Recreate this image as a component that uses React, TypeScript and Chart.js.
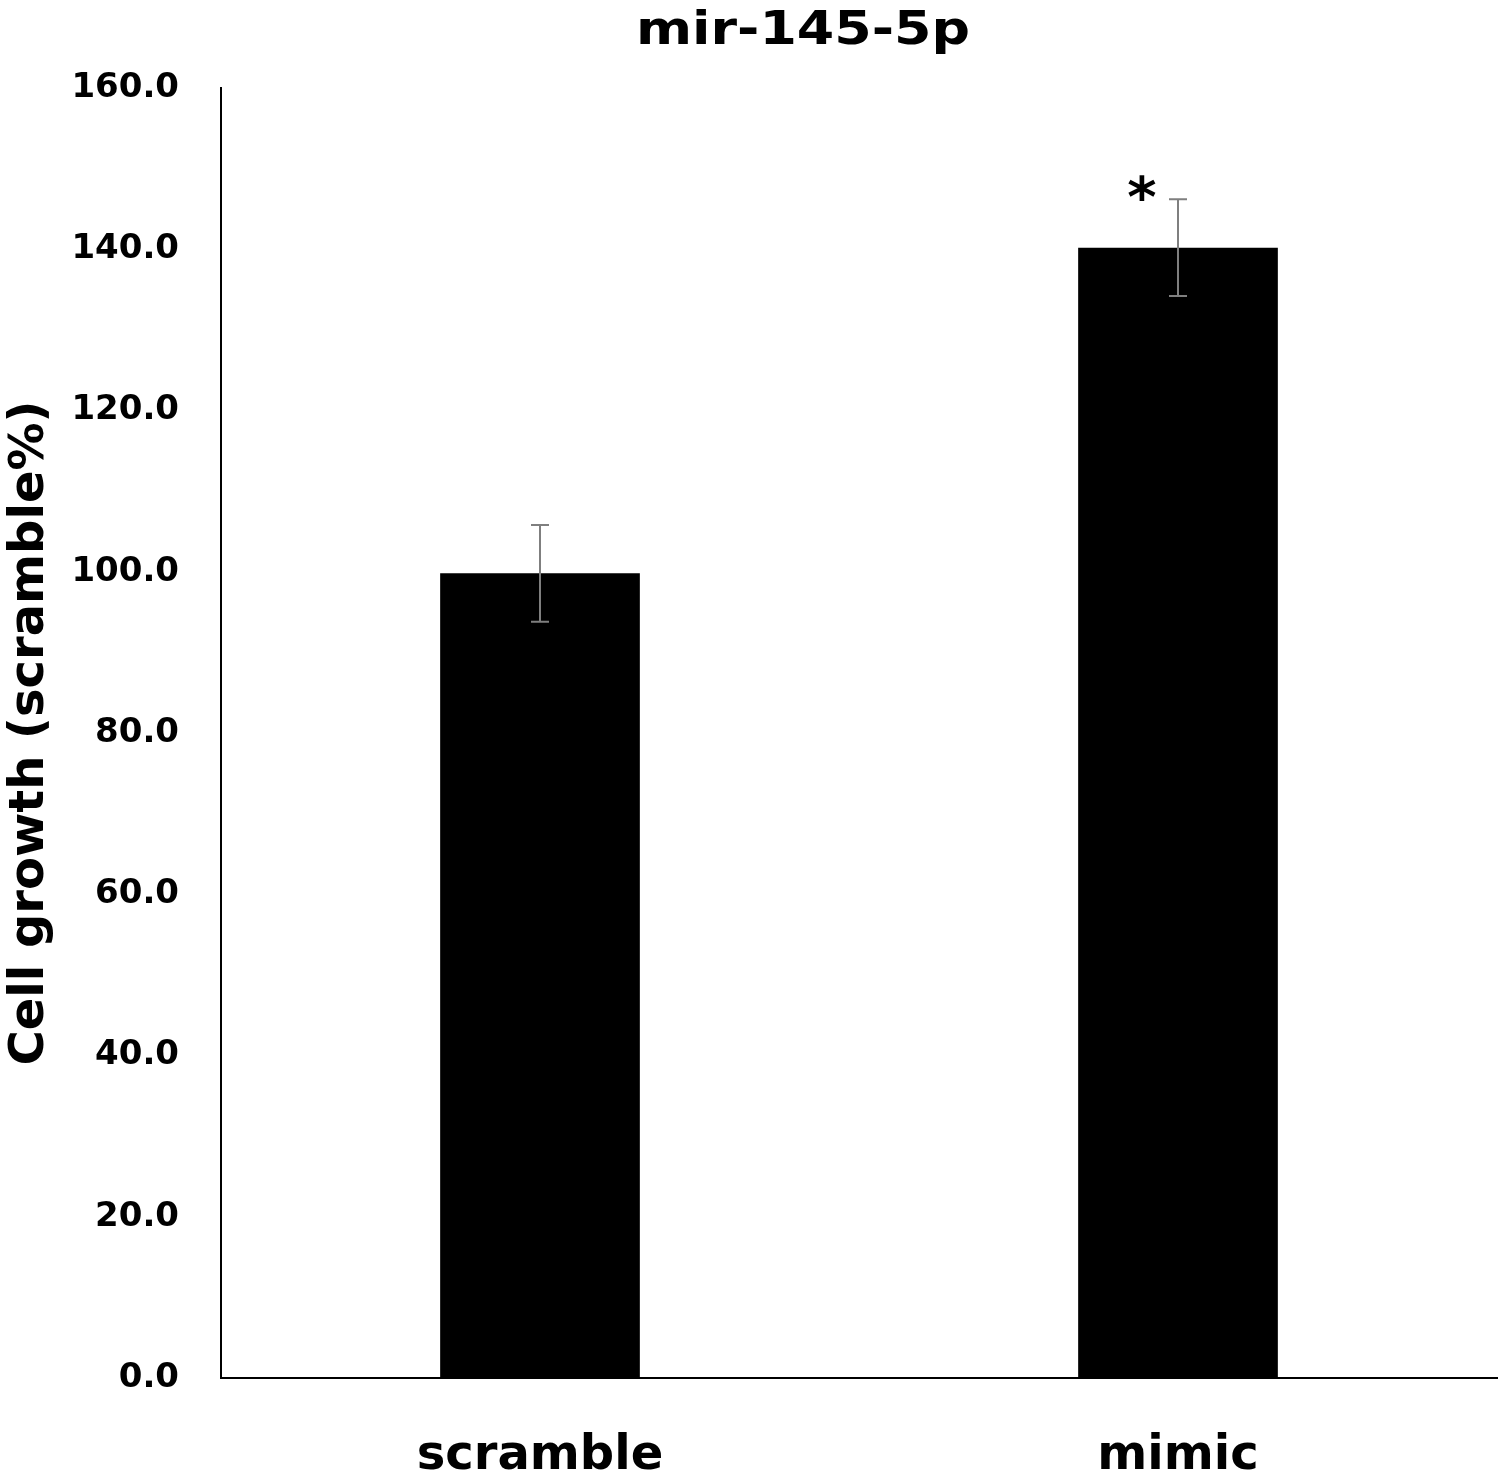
import React, { useEffect, useRef } from "react";
import { Chart, registerables } from "chart.js";

Chart.register(...registerables);

const categories = ["scramble", "mimic"];
const values = [99.8, 140.2];
const errors = [6.0, 6.0];
const significance = ["", "*"];
const yTicks = [0, 20, 40, 60, 80, 100, 120, 140, 160];
const chartTitle = "mir-145-5p";
const yAxisTitle = "Cell growth (scramble%)";

const FONT = "'DejaVu Sans', sans-serif";

const errorBarPlugin = {
  id: "errorBars",
  afterDatasetsDraw(chart: any) {
    const ctx = chart.ctx;
    const yScale = chart.scales.y;
    const meta = chart.getDatasetMeta(0);
    ctx.save();
    meta.data.forEach((el: any, i: number) => {
      const x = el.x;
      const yTop = yScale.getPixelForValue(values[i] + errors[i]);
      const yBot = yScale.getPixelForValue(values[i] - errors[i]);
      ctx.strokeStyle = "#7f7f7f";
      ctx.lineWidth = 2;
      ctx.beginPath();
      ctx.moveTo(x, yTop);
      ctx.lineTo(x, yBot);
      ctx.moveTo(x - 9, yTop);
      ctx.lineTo(x + 9, yTop);
      ctx.moveTo(x - 9, yBot);
      ctx.lineTo(x + 9, yBot);
      ctx.stroke();
      if (significance[i]) {
        ctx.fillStyle = "#000";
        ctx.font = `bold 56px ${FONT}`;
        ctx.textAlign = "center";
        ctx.textBaseline = "alphabetic";
        ctx.fillText(significance[i], x - 36, yTop + 17);
      }
    });
    ctx.restore();
  },
};

const titlePlugin = {
  id: "customTitle",
  afterDraw(chart: any) {
    const ctx = chart.ctx;
    ctx.save();
    ctx.translate(803, 44);
    ctx.scale(1.17, 1);
    ctx.fillStyle = "#000";
    ctx.font = `bold 46px ${FONT}`;
    ctx.textAlign = "center";
    ctx.textBaseline = "alphabetic";
    ctx.fillText(chartTitle, 0, 0);
    ctx.restore();
  },
};

export default function App() {
  const canvasRef = useRef<HTMLCanvasElement | null>(null);

  useEffect(() => {
    if (!canvasRef.current) return;
    const chart = new Chart(canvasRef.current, {
      type: "bar",
      data: {
        labels: categories,
        datasets: [
          {
            data: values,
            backgroundColor: "#000000",
            borderWidth: 0,
            barPercentage: 0.313,
            categoryPercentage: 1.0,
          },
        ],
      },
      options: {
        animation: false,
        responsive: true,
        maintainAspectRatio: false,
        layout: { padding: { top: 88, right: 3, left: 0, bottom: 0 } },
        plugins: {
          legend: { display: false },
          tooltip: { enabled: false },
          title: { display: false },
        },
        scales: {
          x: {
            grid: { display: false, drawTicks: false },
            border: { display: true, color: "#000", width: 2 },
            ticks: {
              color: "#000",
              font: { family: FONT, size: 48, weight: "bold" },
              padding: 50,
            },
            afterFit: (s: any) => {
              s.height = 98;
            },
          },
          y: {
            min: 0,
            max: 160,
            grid: { display: false, drawTicks: false },
            border: { display: true, color: "#000", width: 2 },
            afterBuildTicks: (s: any) => {
              s.ticks = yTicks.map((v) => ({ value: v }));
            },
            ticks: {
              color: "#000",
              font: { family: FONT, size: 34, weight: "bold" },
              padding: 42,
              callback: (v: any) => Number(v).toFixed(1),
            },
            title: {
              display: true,
              text: yAxisTitle,
              color: "#000",
              font: { family: FONT, size: 48, weight: "bold" },
              padding: { top: 2, bottom: 0 },
            },
            afterFit: (s: any) => {
              s.width = 221;
            },
          },
        },
      },
      plugins: [errorBarPlugin, titlePlugin],
    });
    return () => chart.destroy();
  }, []);

  return (
    <div
      style={{
        position: "fixed",
        left: 0,
        top: 0,
        width: 1500,
        height: 1476,
        background: "#fff",
      }}
    >
      <canvas ref={canvasRef} />
    </div>
  );
}
